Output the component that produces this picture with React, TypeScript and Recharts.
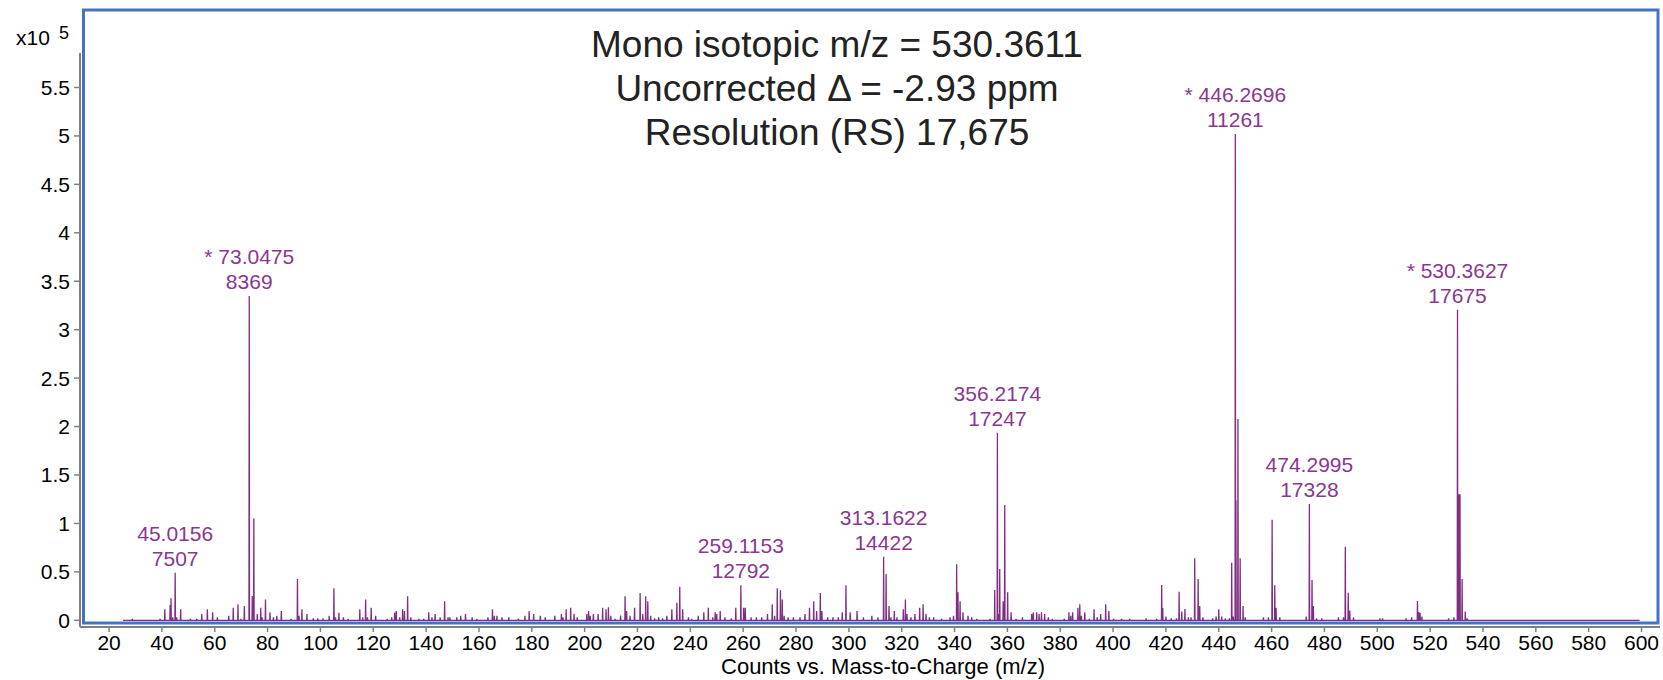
import React from "react";
import {
  ComposedChart,
  Line,
  XAxis,
  YAxis,
  ReferenceDot,
  Customized,
  Label,
} from "recharts";

// ── Spectrum peaks (m/z, counts in units of 10^5)
const PEAK_MZ = [
  28.8, 39.3, 41.1, 43.1, 43.45, 44.1, 45.02, 45.6, 47.1, 50.8, 53.2, 55.07, 57.2, 59.2, 61.0,
  65.3, 67.0, 68.8, 69.9, 71.2, 73.05, 74.2, 74.8, 76.1, 77.4, 77.9, 79.2, 80.9, 82.2, 83.5,
  85.2, 88.9, 91.3, 91.9, 93.0, 94.9, 97.3, 99.0, 101.0, 103.3, 105.1, 105.7, 107.0, 108.7,
  110.5, 114.9, 116.0, 117.1, 117.8, 119.2, 120.9, 125.3, 127.0, 128.1, 128.7, 130.0, 131.1,
  131.8, 133.0, 134.2, 137.3, 139.1, 141.0, 142.2, 143.4, 145.3, 147.0, 148.3, 149.0, 151.6,
  153.1, 154.9, 157.4, 159.2, 163.4, 165.1, 165.8, 166.8, 168.7, 171.3, 174.9, 177.4, 179.0,
  180.7, 183.2, 185.1, 188.7, 191.2, 191.8, 193.0, 194.7, 196.0, 197.2, 200.8, 201.5, 202.1,
  203.3, 205.1, 206.8, 208.1, 209.0, 209.9, 211.5, 213.6, 215.3, 215.9, 217.2, 218.9, 221.0,
  222.0, 223.1, 223.9, 225.0, 226.5, 228.0, 229.5, 231.1, 233.0, 234.9, 236.0, 237.1, 239.3,
  240.5, 243.0, 245.1, 246.8, 248.5, 249.4, 250.0, 251.3, 253.1, 255.5, 257.2, 259.12, 260.2,
  260.8, 263.0, 265.0, 267.0, 269.2, 271.0, 271.9, 272.9, 274.1, 274.8, 275.5, 277.0, 279.0,
  281.5, 283.4, 285.1, 286.7, 287.8, 289.2, 289.8, 292.0, 294.0, 296.0, 297.5, 298.9, 300.5,
  303.1, 305.5, 308.7, 311.0, 313.16, 314.1, 315.2, 315.9, 317.2, 318.2, 320.6, 321.4, 322.0,
  323.5, 325.0, 326.8, 328.1, 329.2, 330.5, 332.1, 335.1, 338.3, 339.6, 340.8, 341.3, 342.1,
  343.2, 345.1, 346.5, 348.4, 353.4, 355.2, 356.22, 356.7, 357.1, 358.4, 359.0, 360.1, 361.4,
  363.3, 365.7, 369.2, 369.8, 371.1, 372.0, 372.9, 374.1, 375.5, 377.0, 381.5, 383.3, 384.0,
  384.7, 386.7, 387.4, 388.0, 389.3, 391.0, 392.8, 394.0, 395.3, 397.2, 398.4, 400.2, 403.2,
  406.3, 412.5, 416.5, 418.4, 418.8, 420.0, 422.0, 424.0, 425.0, 426.0, 427.2, 428.5, 429.5,
  430.9, 432.2, 432.8, 434.0, 437.7, 439.0, 440.0, 441.1, 442.5, 444.0, 444.9, 445.5, 446.27,
  446.5, 447.27, 448.1, 449.2, 450.0, 456.9, 458.8, 460.2, 461.2, 461.7, 463.1, 473.1, 474.3,
  475.3, 475.8, 477.0, 479.0, 485.3, 487.2, 487.9, 489.0, 489.6, 491.0, 501.0, 502.0, 510.9,
  513.0, 515.2, 515.7, 516.2, 516.9, 527.0, 529.0, 530.36, 530.8, 531.3, 532.1, 533.3, 534.0,
];

const PEAK_INT = [
  0.015, 0.015, 0.113, 0.158, 0.227, 0.03, 0.49, 0.03, 0.113, 0.015, 0.015, 0.065, 0.113, 0.082, 0.03,
  0.048, 0.13, 0.165, 0.015, 0.148, 3.347, 0.25, 1.05, 0.065, 0.13, 0.03, 0.215, 0.082, 0.03, 0.048,
  0.096, 0.015, 0.426, 0.048, 0.113, 0.065, 0.02, 0.02, 0.02, 0.048, 0.33, 0.03, 0.079, 0.03,
  0.015, 0.113, 0.03, 0.215, 0.03, 0.13, 0.048, 0.015, 0.03, 0.08, 0.096, 0.03, 0.113,
  0.096, 0.248, 0.03, 0.015, 0.015, 0.082, 0.03, 0.065, 0.03, 0.196, 0.03, 0.03, 0.03,
  0.048, 0.065, 0.03, 0.015, 0.03, 0.113, 0.048, 0.048, 0.03, 0.03, 0.015, 0.048, 0.096,
  0.065, 0.048, 0.03, 0.048, 0.065, 0.03, 0.113, 0.13, 0.065, 0.03, 0.065, 0.096, 0.048,
  0.065, 0.065, 0.13, 0.113, 0.134, 0.048, 0.015, 0.05, 0.248, 0.096, 0.048, 0.13, 0.282,
  0.065, 0.248, 0.196, 0.048, 0.02, 0.03, 0.02, 0.048, 0.113, 0.18, 0.347, 0.113, 0.03,
  0.015, 0.048, 0.082, 0.13, 0.03, 0.082, 0.065, 0.096, 0.03, 0.02, 0.13, 0.361, 0.13,
  0.13, 0.03, 0.03, 0.03, 0.065, 0.165, 0.048, 0.33, 0.31, 0.215, 0.048, 0.03, 0.03,
  0.03, 0.065, 0.13, 0.196, 0.096, 0.282, 0.096, 0.03, 0.03, 0.03, 0.082, 0.361, 0.082,
  0.096, 0.03, 0.048, 0.03, 0.656, 0.478, 0.148, 0.03, 0.096, 0.03, 0.113, 0.215, 0.065,
  0.03, 0.065, 0.13, 0.165, 0.065, 0.03, 0.03, 0.015, 0.03, 0.048, 0.578, 0.29, 0.196,
  0.082, 0.048, 0.03, 0.015, 0.015, 0.313, 1.936, 0.065, 0.53, 0.196, 1.19, 0.29, 0.082,
  0.015, 0.03, 0.065, 0.08, 0.082, 0.065, 0.082, 0.065, 0.03, 0.015, 0.015, 0.082, 0.048,
  0.082, 0.13, 0.165, 0.048, 0.082, 0.015, 0.113, 0.03, 0.065, 0.165, 0.096, 0.015, 0.015,
  0.015, 0.02, 0.015, 0.364, 0.127, 0.04, 0.02, 0.02, 0.296, 0.09, 0.116, 0.03, 0.03,
  0.64, 0.426, 0.147, 0.03, 0.02, 0.04, 0.113, 0.04, 0.02, 0.02, 0.594, 0.04, 5.02,
  1.24, 2.077, 0.64, 0.147, 0.03, 0.03, 0.03, 1.038, 0.361, 0.13, 0.03, 0.04, 1.2,
  0.416, 0.147, 0.02, 0.02, 0.03, 0.03, 0.76, 0.285, 0.1, 0.03, 0.02, 0.02, 0.02,
  0.03, 0.2, 0.085, 0.075, 0.04, 0.02, 0.03, 3.205, 1.3, 1.3, 0.426, 0.09, 0.02,
];

// annotated peaks
const ANNOT_MZ = [45.02, 73.05, 259.12, 313.16, 356.22, 446.27, 474.3, 530.36];
const ANNOT_INT = [0.49, 3.347, 0.361, 0.656, 1.936, 5.02, 1.2, 3.205];
const ANNOT_MASS = ["45.0156", "* 73.0475", "259.1153", "313.1622", "356.2174", "* 446.2696", "474.2995", "* 530.3627"];
const ANNOT_RES = ["7507", "8369", "12792", "14422", "17247", "11261", "17328", "17675"];

const X_TICKS = [
  20, 40, 60, 80, 100, 120, 140, 160, 180, 200, 220, 240, 260, 280, 300,
  320, 340, 360, 380, 400, 420, 440, 460, 480, 500, 520, 540, 560, 580, 600,
];
const Y_TICKS = [0, 0.5, 1, 1.5, 2, 2.5, 3, 3.5, 4, 4.5, 5, 5.5];

const TITLE_LINES = ["Mono isotopic m/z = 530.3611", "Uncorrected Δ = -2.93 ppm", "Resolution (RS) 17,675"];

const SCAN_START = 25.3;
const SCAN_END = 599.3;
const HALF_WIDTH = 0.1;

const PURPLE = "#812D84";
const LABEL_PURPLE = "#8A3790";
const BLUE = "#4472C4";
const FONT = "'Liberation Sans', Arial, sans-serif";

// build the profile line: baseline with a narrow spike for every peak
const spectrum: { mz: number; y: number }[] = [{ mz: SCAN_START, y: 0 }];
PEAK_MZ.forEach((m, i) => {
  spectrum.push({ mz: m - HALF_WIDTH, y: 0 }, { mz: m, y: PEAK_INT[i] }, { mz: m + HALF_WIDTH, y: 0 });
});
spectrum.push({ mz: SCAN_END, y: 0 });

function PeakLabel(props: any) {
  const vb = props.viewBox || {};
  const cx = (vb.x ?? 0) + (vb.width ?? 0) / 2;
  const cy = (vb.y ?? 0) + (vb.height ?? 0) / 2;
  return (
    <g>
      <text x={cx} y={cy - 32} textAnchor="middle" fontSize={21} fill={LABEL_PURPLE} fontFamily={FONT}>
        {props.mass}
      </text>
      <text x={cx} y={cy - 7} textAnchor="middle" fontSize={21} fill={LABEL_PURPLE} fontFamily={FONT}>
        {props.res}
      </text>
    </g>
  );
}

// frame, exponent and the title block
function Decor() {
  return (
    <g fontFamily={FONT}>
      <rect x={83.5} y={10} width={1574.5} height={613} fill="none" stroke={BLUE} strokeWidth={3} />
      <text x={16} y={45} fontSize={21} fill="#000">x10</text>
      <text x={59} y={39} fontSize={18} fill="#000">5</text>
      {TITLE_LINES.map((t, i) => (
        <text key={i} x={837} y={57 + i * 44} textAnchor="middle" fontSize={37} fill="#222">
          {t}
        </text>
      ))}
    </g>
  );
}

export default function App() {
  return (
    <div style={{ position: "absolute", left: 0, top: 0, width: 1663, height: 680, background: "#fff", fontFamily: FONT }}>
      <ComposedChart width={1663} height={680} data={spectrum} margin={{ top: 53, right: 3, bottom: 0, left: 0 }}>
        <Customized component={<Decor />} />
        <XAxis
          type="number"
          dataKey="mz"
          domain={[9, 607]}
          allowDataOverflow
          ticks={X_TICKS}
          height={53}
          axisLine={{ stroke: "#808080", strokeWidth: 2 }}
          tickLine={{ stroke: "#808080", strokeWidth: 1.5 }}
          tickSize={5}
          tickMargin={3}
          tick={{ fontSize: 21, fill: "#000", fontFamily: FONT }}
        >
          <Label
            value="Counts vs. Mass-to-Charge (m/z)"
            position="insideBottom"
            offset={6}
            dx={13}
            style={{ fontSize: 22, fill: "#000", fontFamily: FONT }}
          />
        </XAxis>
        <YAxis
          type="number"
          domain={[-0.069, 5.856]}
          allowDataOverflow
          ticks={Y_TICKS}
          width={80}
          axisLine={{ stroke: "#808080", strokeWidth: 2 }}
          tickLine={{ stroke: "#808080", strokeWidth: 1.5 }}
          tickSize={6}
          tickMargin={4}
          tick={{ fontSize: 21, fill: "#000", fontFamily: FONT }}
        />
        <Line
          type="linear"
          dataKey="y"
          stroke={PURPLE}
          strokeWidth={1.3}
          dot={false}
          activeDot={false}
          isAnimationActive={false}
        />
        {ANNOT_MZ.map((m, i) => (
          <ReferenceDot
            key={m}
            x={m}
            y={ANNOT_INT[i]}
            r={0}
            fill="none"
            stroke="none"
            ifOverflow="visible"
            label={(p: any) => <PeakLabel viewBox={p.viewBox} mass={ANNOT_MASS[i]} res={ANNOT_RES[i]} />}
          />
        ))}
      </ComposedChart>
    </div>
  );
}
